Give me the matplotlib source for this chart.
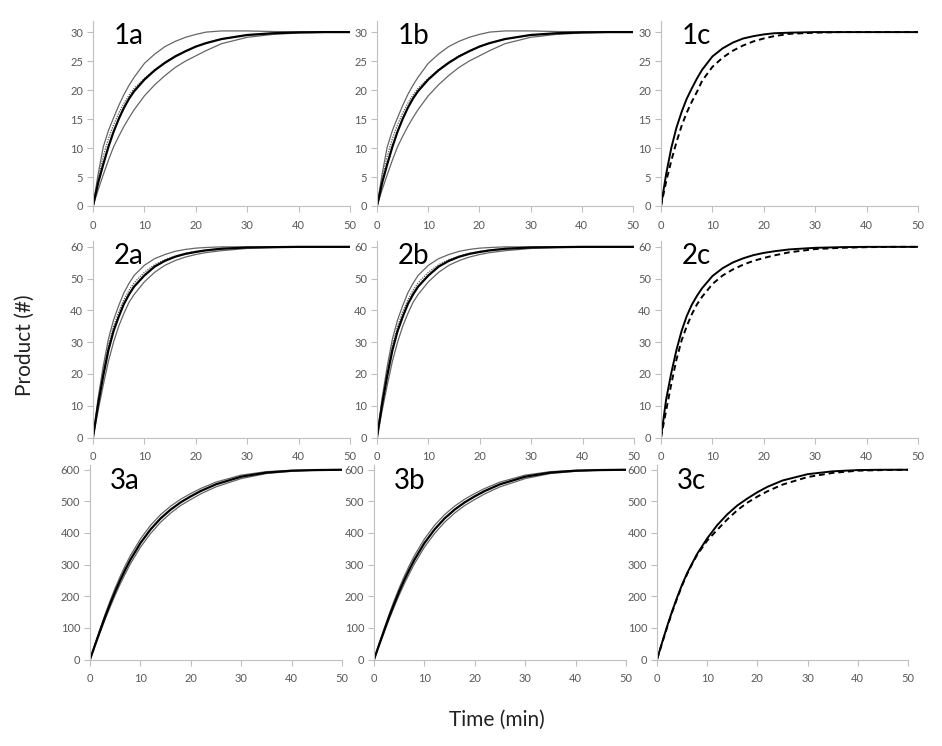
import matplotlib
matplotlib.use("Agg")
from matplotlib import pyplot as plt

plt.rcParams['font.family'] = ['Lato', 'DejaVu Sans']

# time points (min)
t = [0, 1, 2, 3, 4, 5, 6, 7, 8, 10, 12, 14, 16, 18, 20, 22, 25, 30, 35, 40, 45, 50]

# row 1 (max 30)
mean1 = [0, 4.0, 7.2, 10.2, 12.8, 15.0, 16.9, 18.5, 19.8, 21.8, 23.4, 24.7, 25.8, 26.7, 27.5, 28.1, 28.8, 29.5, 29.8, 29.95, 30, 30]
upper1 = [0, 5.5, 10.2, 13.0, 15.2, 17.3, 19.2, 20.8, 22.2, 24.6, 26.2, 27.5, 28.4, 29.1, 29.6, 30.0, 30.2, 30.2, 30.1, 30.05, 30, 30]
lower1 = [0, 2.8, 5.4, 7.9, 10.2, 12.0, 13.7, 15.2, 16.6, 19.0, 20.9, 22.5, 23.9, 25.0, 25.9, 26.8, 28.0, 29.1, 29.6, 29.85, 29.95, 30]
dotted1 = [0, 4.8, 8.6, 11.6, 14.0, 16.0, 17.7, 19.1, 20.3, 22.0, 23.5, 24.8, 25.9, 26.7, 27.5, 28.1, 28.8, 29.5, 29.8, 29.95, 30, 30]
solid1c = [0, 5.5, 10.0, 13.5, 16.2, 18.5, 20.3, 22.0, 23.5, 25.8, 27.2, 28.2, 28.9, 29.3, 29.6, 29.8, 29.9, 30, 30, 30, 30, 30]
dashed1c = [0, 4.2, 7.8, 11.0, 13.8, 16.1, 18.0, 19.7, 21.6, 24.0, 25.6, 26.8, 27.7, 28.4, 28.9, 29.3, 29.7, 29.9, 30, 30, 30, 30]

# row 2 (max 60)
mean2 = [0, 10.5, 19.5, 27.5, 33.5, 38.0, 42.0, 45.0, 47.5, 51.0, 53.8, 55.6, 56.9, 57.8, 58.4, 58.9, 59.4, 59.8, 59.9, 60, 60, 60]
upper2 = [0, 12.5, 22.5, 31.0, 37.0, 41.5, 45.5, 48.5, 51.0, 54.2, 56.3, 57.6, 58.6, 59.2, 59.6, 59.8, 60, 60, 60, 60, 60, 60]
lower2 = [0, 8.5, 16.5, 24.0, 30.0, 35.0, 39.0, 42.5, 45.0, 49.0, 52.0, 54.2, 55.7, 56.8, 57.6, 58.2, 58.8, 59.5, 59.8, 59.9, 60, 60]
dotted2 = [0, 11.5, 21.0, 29.0, 35.0, 39.5, 43.3, 46.3, 48.7, 52.0, 54.4, 56.0, 57.1, 58.0, 58.6, 59.0, 59.5, 59.8, 59.9, 60, 60, 60]
solid2c = [0, 12.0, 20.3, 27.5, 33.5, 38.2, 41.8, 44.6, 47.0, 50.8, 53.3, 55.1, 56.4, 57.4, 58.1, 58.6, 59.2, 59.7, 59.9, 60, 60, 60]
dashed2c = [0, 8.5, 16.8, 24.5, 30.5, 35.0, 38.8, 41.9, 44.3, 48.3, 51.0, 52.9, 54.4, 55.6, 56.5, 57.3, 58.3, 59.3, 59.7, 59.9, 60, 60]

# row 3 (max 600)
mean3 = [0, 46, 91, 135, 176, 215, 251, 284, 315, 368, 411, 446, 474, 497, 516, 533, 554, 578, 591, 597, 599, 600]
upper3 = [0, 49, 97, 143, 186, 226, 263, 297, 328, 381, 424, 458, 485, 507, 525, 541, 561, 583, 594, 598, 600, 600]
lower3 = [0, 43, 85, 127, 166, 204, 239, 271, 302, 355, 398, 434, 463, 487, 506, 524, 546, 572, 588, 595, 599, 600]
solid3c = [0, 53, 104, 152, 196, 237, 273, 304, 334, 383, 425, 459, 487, 509, 529, 546, 566, 586, 595, 599, 600, 600]
dashed3c = [0, 51, 101, 149, 193, 234, 270, 302, 331, 376, 410, 443, 472, 496, 515, 532, 553, 577, 590, 597, 599, 600]

rows = [
    dict(ymax=30, ystep=5, top=32, upper=upper1, mean=mean1, lower=lower1, dotted=dotted1,
         solid=solid1c, dashed=dashed1c),
    dict(ymax=60, ystep=10, top=62, upper=upper2, mean=mean2, lower=lower2, dotted=dotted2,
         solid=solid2c, dashed=dashed2c),
    dict(ymax=600, ystep=100, top=615, upper=upper3, mean=mean3, lower=lower3, dotted=None,
         solid=solid3c, dashed=dashed3c),
]

W, H = 942, 746
# pixel boxes: (left, right) per column for each row, (bottom, top) per row
xboxes = [
    [(93, 350), (377, 633), (661, 918)],
    [(93, 350), (377, 634), (661, 918)],
    [(90, 342), (374, 626), (657, 908)],
]
yboxes = [(206, 20.5), (437.5, 240.5), (659.5, 465)]

fig = plt.figure(figsize=(W / 100, H / 100), dpi=100)

axis_grey = '#bfbfbf'
text_grey = '#595959'

for r, row in enumerate(rows):
    yb, yt = yboxes[r]
    for c, col in enumerate('abc'):
        xl, xr = xboxes[r][c]
        ax = fig.add_axes([xl / W, (H - yb) / H, (xr - xl) / W, (yb - yt) / H])
        ax.patch.set_alpha(0)
        if col in 'ab':
            ax.plot(t, row['upper'], color='#666666', lw=0.9)
            ax.plot(t, row['lower'], color='#666666', lw=0.9)
            if row['dotted'] is not None:
                ax.plot(t, row['dotted'], color='#555555', lw=0.9, ls=(0, (1, 1)))
            ax.plot(t, row['mean'], color='black', lw=1.6)
        else:
            ax.plot(t, row['solid'], color='black', lw=1.4)
            ax.plot(t, row['dashed'], color='black', lw=1.4, ls=(0, (3, 2)))
        ax.set_xlim(0, 50)
        ax.set_ylim(0, row['top'])
        ax.set_xticks(range(0, 51, 10))
        ax.set_yticks(range(0, row['ymax'] + 1, row['ystep']))
        for s in ['top', 'right']:
            ax.spines[s].set_visible(False)
        for s in ['left', 'bottom']:
            ax.spines[s].set_color(axis_grey)
            ax.spines[s].set_linewidth(0.8)
        ax.tick_params(direction='out', length=4, width=0.8, color=axis_grey,
                       labelcolor=text_grey, labelsize=8, pad=3)
        ax.tick_params(axis='x', pad=6)
        ax.text(0.08, 0.985, f'{r + 1}{col}', transform=ax.transAxes,
                fontsize=20, va='top', ha='left', color='black')

fig.text(25 / W, 1 - 345 / H, 'Product (#)', rotation=90, fontsize=15,
         va='center', ha='center', color='#222222')
fig.text(497 / W, 1 - 720 / H, 'Time (min)', fontsize=15,
         va='center', ha='center', color='#222222')

fig.savefig('out.png', dpi=100)
